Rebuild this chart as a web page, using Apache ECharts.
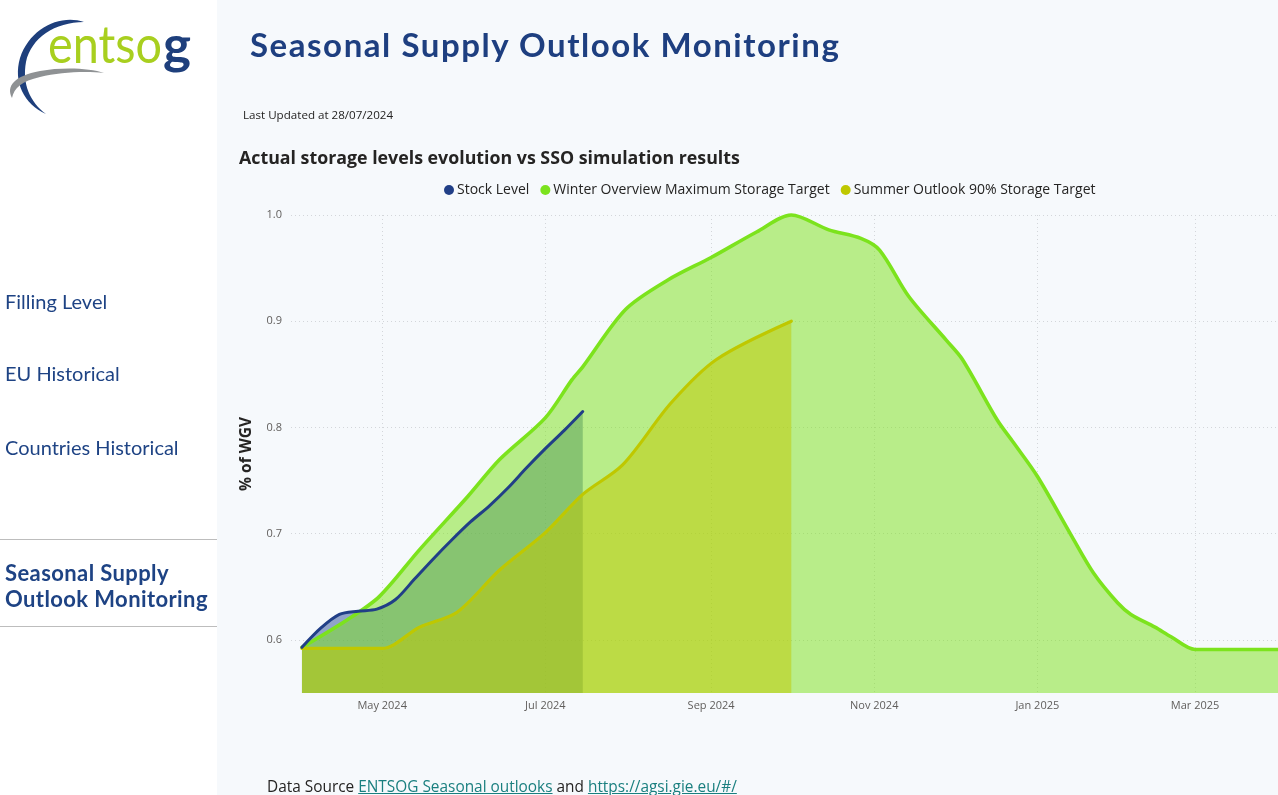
<!DOCTYPE html>
<html>
<head>
<meta charset="utf-8">
<script src="https://cdn.jsdelivr.net/npm/echarts@6/dist/echarts.min.js"></script>
<style>
html,body{margin:0;padding:0;width:1278px;height:795px;overflow:hidden;background:#f6f9fc;}
#side{position:absolute;left:0;top:0;width:217px;height:795px;background:#ffffff;}
#chart{position:absolute;left:0;top:0;width:1278px;height:795px;}
.nav{position:absolute;left:5px;font-family:Lato,sans-serif;font-size:20px;line-height:24px;color:#1e4384;white-space:nowrap;z-index:3;}
.sep{position:absolute;left:0;width:217px;height:1px;background:#bdbdbd;z-index:3;}
#title{position:absolute;left:250px;top:25px;font-family:Lato,sans-serif;font-weight:bold;font-size:33px;line-height:38px;color:#1e3f80;letter-spacing:1.55px;white-space:nowrap;z-index:3;}
#updated{position:absolute;left:243px;top:107px;font-family:"Open Sans",sans-serif;font-size:11.6px;line-height:16px;color:#252423;white-space:nowrap;z-index:3;}
#sub{position:absolute;left:239px;top:145px;font-family:"Open Sans",sans-serif;font-weight:700;font-size:17.8px;line-height:24px;color:#252423;white-space:nowrap;z-index:3;}
#src{position:absolute;left:267px;top:776px;font-family:"Open Sans",sans-serif;font-size:15.4px;line-height:22px;color:#252423;white-space:nowrap;z-index:3;}
#src a{color:#1a7f7f;text-decoration:underline;}
#logo{position:absolute;left:0;top:0;z-index:3;}
</style>
</head>
<body>
<div id="side"></div>
<svg id="logo" width="217" height="130" viewBox="0 0 217 130">
  <path d="M84,22 C60,14 30,28 20,58 C13,82 24,104 46,114 C30,102 22,84 26,62 C31,38 55,22 84,22 Z" fill="#1e3f7c"/>
  <path d="M12,98 C6,86 14,76 40,71 C62,67 90,68 104,73 C86,71 60,72 40,77 C22,81 14,88 12,98 Z" fill="#8f9294"/>
  <text x="48" y="63" font-family="Lato" font-size="52" fill="#a8cf1f" textLength="114" lengthAdjust="spacingAndGlyphs">entso</text>
  <text x="163" y="63" font-family="Lato" font-weight="bold" font-size="52" fill="#1e3f7c" textLength="28" lengthAdjust="spacingAndGlyphs">g</text>
</svg>
<div class="nav" style="top:289px;">Filling Level</div>
<div class="nav" style="top:361px;">EU Historical</div>
<div class="nav" style="top:435px;">Countries Historical</div>
<div class="sep" style="top:539px;"></div>
<div class="nav" style="top:560px;font-weight:bold;font-size:22px;letter-spacing:0.4px;line-height:26px;">Seasonal Supply<br>Outlook Monitoring</div>
<div class="sep" style="top:626px;"></div>
<div id="title">Seasonal Supply Outlook Monitoring</div>
<div id="updated">Last Updated at 28/07/2024</div>
<div id="sub">Actual storage levels evolution vs SSO simulation results</div>
<div id="src">Data Source <a>ENTSOG Seasonal outlooks</a> and <a>https://agsi.gie.eu/#/</a></div>
<div id="chart"></div>
<script>
// ---- data ----
const seriesNames = ['Stock Level', 'Winter Overview Maximum Storage Target', 'Summer Outlook 90% Storage Target'];

const stockDates = ['2024-04-01','2024-04-08','2024-04-15','2024-04-22','2024-04-29','2024-05-06','2024-05-13','2024-05-20','2024-05-27','2024-06-03','2024-06-10','2024-06-17','2024-06-24','2024-07-01','2024-07-08','2024-07-15'];
const stockValues = [0.593,0.611,0.624,0.627,0.629,0.638,0.657,0.676,0.694,0.711,0.726,0.743,0.762,0.780,0.797,0.815];

const winterDates = ['2024-04-01','2024-04-18','2024-04-30','2024-05-15','2024-06-02','2024-06-14','2024-07-01','2024-07-11','2024-07-15','2024-07-31','2024-08-16','2024-09-01','2024-09-18','2024-10-01','2024-10-15','2024-10-27','2024-11-03','2024-11-14','2024-11-28','2024-12-04','2024-12-17','2024-12-23','2025-01-01','2025-01-14','2025-01-22','2025-01-31','2025-02-05','2025-02-14','2025-02-20','2025-03-01','2025-04-01'];
const winterValues = [0.593,0.619,0.641,0.685,0.735,0.770,0.809,0.845,0.857,0.911,0.939,0.960,0.984,1.000,0.986,0.978,0.967,0.923,0.882,0.864,0.807,0.786,0.754,0.697,0.663,0.635,0.624,0.612,0.603,0.591,0.591];

const summerDates = ['2024-04-01','2024-05-01','2024-05-15','2024-05-29','2024-06-14','2024-07-01','2024-07-15','2024-07-30','2024-08-17','2024-09-03','2024-10-01'];
const summerValues = [0.592,0.592,0.612,0.626,0.666,0.701,0.737,0.765,0.823,0.864,0.900];

const yTicks = [0.6, 0.7, 0.8, 0.9, 1.0];
const xTickDates = ['2024-05-01','2024-07-01','2024-09-01','2024-11-01','2025-01-01','2025-03-01'];
const monthNames = ['Jan','Feb','Mar','Apr','May','Jun','Jul','Aug','Sep','Oct','Nov','Dec'];

// ---- styles ----
const lineColors = ['#213f87', '#7ce31d', '#bfc800'];
const lineWidths = [3, 3.6, 3.2];
const areaColors = ['rgba(41,77,150,0.5)', 'rgba(126,226,31,0.52)', 'rgba(192,200,0,0.5)'];

function toTime(s) { return new Date(s + 'T00:00:00').getTime(); }
function pairs(d, v) { return d.map((s, i) => [toTime(s), v[i]]); }

const datasets = [pairs(stockDates, stockValues), pairs(winterDates, winterValues), pairs(summerDates, summerValues)];
const xTickValues = xTickDates.map(toTime);
const dayMs = 86400000;
const xMin = toTime('2024-04-01') - 4.1 * dayMs;
const xMax = toTime('2025-04-01');

const series = [];
datasets.forEach((d, i) => {
  series.push({
    name: seriesNames[i], type: 'line', data: d, smooth: 0.3, symbol: 'none', silent: true,
    lineStyle: { width: 0 }, itemStyle: { color: lineColors[i] },
    areaStyle: { color: areaColors[i], origin: 'start', opacity: 1 },
    z: 2 + i
  });
});
[1, 2, 0].forEach((i, k) => {
  series.push({
    name: seriesNames[i], type: 'line', data: datasets[i], smooth: 0.3, symbol: 'none', clip: false,
    lineStyle: { width: lineWidths[i], color: lineColors[i], cap: 'round', join: 'round' },
    itemStyle: { color: lineColors[i] },
    z: 6 + k
  });
});

const gridLineStyle = { color: '#d3d6da', type: [1, 3], width: 1 };

const chart = echarts.init(document.getElementById('chart'), null, { renderer: 'canvas' });
chart.setOption({
  animation: false,
  backgroundColor: 'transparent',
  legend: {
    data: seriesNames.map(n => ({ name: n, icon: 'circle' })),
    left: 444, top: 183, padding: 0, itemWidth: 10, itemHeight: 10, itemGap: 11,
    textStyle: { fontFamily: 'Open Sans', fontSize: 14, color: '#252423', padding: [0, 0, 0, -2] },
    selectedMode: false
  },
  grid: { left: 291, right: 0, top: 215, bottom: 102, containLabel: false },
  xAxis: {
    type: 'value', min: xMin, max: xMax,
    axisLine: { show: false }, axisTick: { show: false, customValues: xTickValues },
    axisLabel: {
      customValues: xTickValues, margin: 7, color: '#605e5c', fontFamily: 'Open Sans', fontSize: 11,
      formatter: v => { const d = new Date(v); return monthNames[d.getMonth()] + ' ' + d.getFullYear(); }
    },
    splitLine: { show: true, customValues: xTickValues, lineStyle: gridLineStyle }
  },
  yAxis: {
    type: 'value', min: 0.55, max: 1.0,
    name: '% of WGV', nameLocation: 'middle', nameGap: 36, nameRotate: 90,
    nameTextStyle: { fontFamily: 'Open Sans', fontWeight: 'bold', fontSize: 15.5, color: '#252423' },
    axisLine: { show: false }, axisTick: { show: false, customValues: yTicks },
    axisLabel: { customValues: yTicks, margin: 9, color: '#605e5c', fontFamily: 'Open Sans', fontSize: 11, formatter: v => v.toFixed(1) },
    splitLine: { show: true, customValues: yTicks, lineStyle: gridLineStyle }
  },
  series: series
});
</script>
</body>
</html>
